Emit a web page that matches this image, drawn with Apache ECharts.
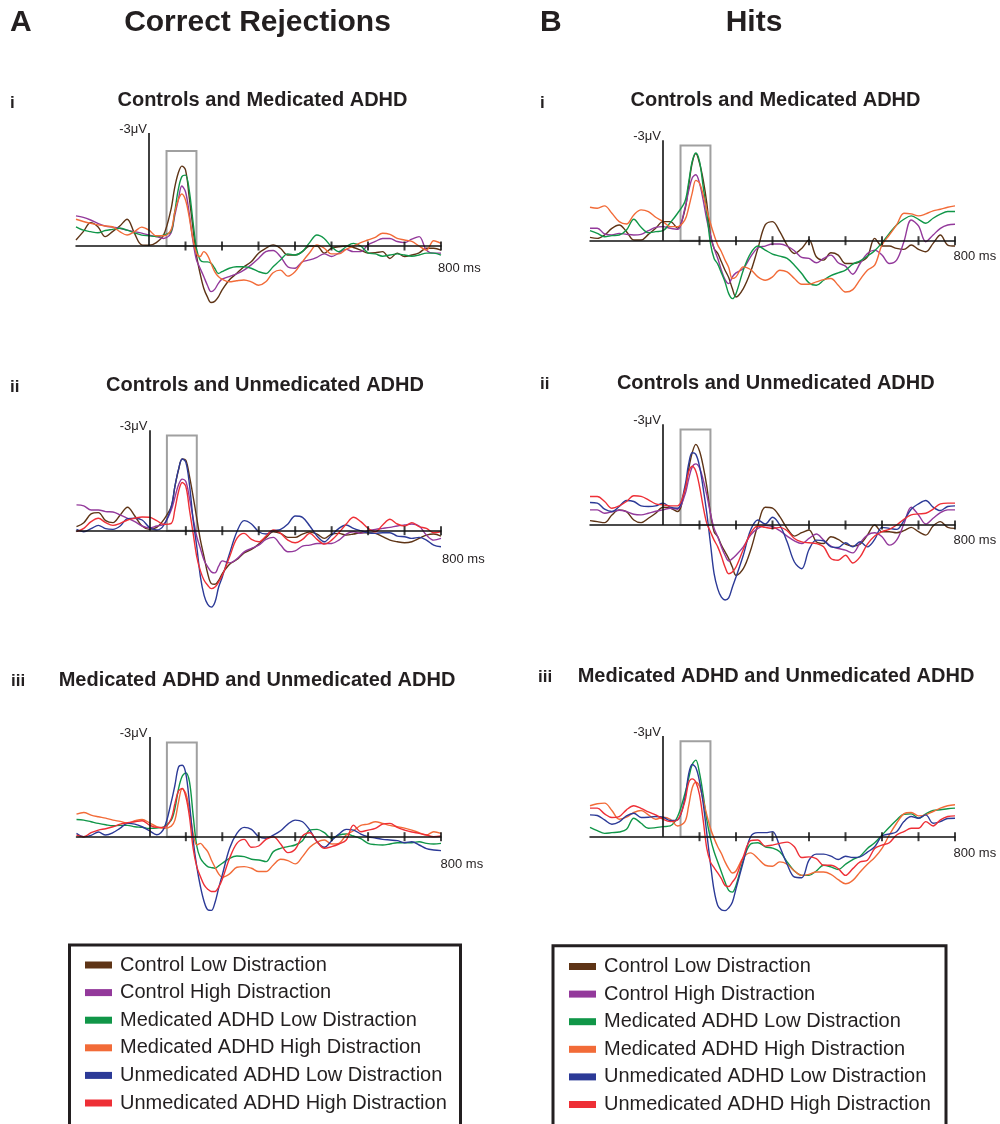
<!DOCTYPE html>
<html><head><meta charset="utf-8">
<script src="https://cdn.jsdelivr.net/npm/echarts@6/dist/echarts.min.js"></script>
<style>html,body{margin:0;padding:0;background:#fff}#c{width:1000px;height:1124px}</style>
</head><body><div id="c"></div>
<script>
// ---------- DATA ----------
const times = [-200,-180,-160,-140,-120,-100,-80,-60,-40,-20,0,20,40,60,70,80,90,100,110,120,130,140,150,160,170,180,190,200,220,240,260,280,300,320,340,360,380,400,420,440,460,480,500,520,540,560,580,600,620,640,660,680,700,720,740,760,780,800];
const seriesNames = ['Control Low Distraction','Control High Distraction','Medicated ADHD Low Distraction','Medicated ADHD High Distraction','Unmedicated ADHD Low Distraction','Unmedicated ADHD High Distraction'];
const seriesColors = ['#5E3416','#93399B','#109648','#F26B38','#2C3A97','#EE2F36'];
const tickValues = [100,200,300,400,500,600,700,800];
const columnLetters = ['A','B'];
const columnTitles = ['Correct Rejections','Hits'];
const panelNumerals = ['i','ii','iii'];
const panelTitles = ['Controls and Medicated ADHD','Controls and Unmedicated ADHD','Medicated ADHD and Unmedicated ADHD'];
const yScaleLabel = '-3\u03BCV';
const xEndLabel = '800 ms';
const scaleMarkValue = -3;
const windowMs = [48, 130];

// Correct Rejections (A)
const crI_ctrlLow  = [-0.16,-0.38,-0.62,-0.51,-0.25,-0.38,-0.53,-0.71,-0.34,-0.03,-0.02,-0.09,-0.29,-0.96,-1.53,-1.93,-2.12,-2.02,-1.31,-0.51,0.24,0.73,1.12,1.35,1.50,1.47,1.35,1.17,0.90,0.73,0.55,0.42,0.19,0.06,-0.03,0.06,0.24,0.24,0.15,0,0,0.19,0.06,0.02,0,0.04,0.11,0.19,0.18,0.15,0.33,0.19,0.28,0.24,0.18,0.06,0.06,0.11];
const crI_ctrlHigh = [-0.80,-0.76,-0.69,-0.60,-0.53,-0.50,-0.47,-0.42,-0.38,-0.34,-0.29,-0.25,-0.20,-0.34,-0.78,-1.21,-1.59,-1.44,-0.88,-0.16,0.37,0.59,0.81,1.04,1.21,1.15,0.99,0.88,0.81,0.74,0.64,0.50,0.33,0.15,0.12,0.28,0.55,0.59,0.42,0.37,0.30,0.21,0.28,0.19,0.09,0.15,0.15,-0.03,-0.12,-0.20,-0.20,-0.12,-0.09,-0.18,-0.25,0.11,0.19,0.19];
const crI_medLow   = [-0.51,-0.42,-0.38,-0.35,-0.41,-0.44,-0.47,-0.42,-0.35,-0.29,-0.27,-0.25,-0.29,-0.38,-0.87,-1.49,-1.84,-1.88,-1.49,-0.69,0.06,0.37,0.42,0.42,0.46,0.59,0.73,0.68,0.59,0.55,0.55,0.59,0.68,0.73,0.55,0.37,0.21,0.24,0.15,-0.09,-0.29,-0.20,0.02,0.15,0.02,-0.07,0,0.18,0.21,0.27,0.24,0.21,0.24,0.27,0.24,0.19,0.19,0.24];
const crI_medHigh  = [-0.71,-0.65,-0.60,-0.56,-0.53,-0.51,-0.38,-0.29,-0.38,-0.50,-0.42,-0.27,-0.27,-0.42,-0.87,-1.22,-1.38,-1.22,-0.78,-0.20,0.19,0.28,0.15,0.24,0.46,0.68,0.81,0.88,0.95,0.92,0.90,0.95,1.04,0.95,0.71,0.64,0.80,0.68,0.42,0.18,-0.03,0.06,0.21,0.21,0.09,0,-0.09,-0.16,-0.23,-0.34,-0.31,-0.20,-0.16,-0.12,0,0.11,-0.14,-0.07];

const crII_ctrlLow   = [-0.12,-0.24,-0.50,-0.54,-0.30,-0.24,-0.47,-0.70,-0.44,-0.14,-0.04,-0.10,-0.34,-0.72,-1.32,-1.82,-2.14,-2.10,-1.62,-1.02,-0.37,0.28,0.78,1.28,1.58,1.60,1.48,1.28,1.00,0.86,0.66,0.56,0.40,0.20,0.03,0.08,0.20,0.20,0.10,0.04,0.10,0.23,0.10,0.08,0.13,0.10,0.06,0.06,0.08,0.18,0.28,0.33,0.36,0.33,0.23,0.13,0.10,0.16];
const crII_ctrlHigh  = [-0.77,-0.74,-0.62,-0.62,-0.57,-0.56,-0.47,-0.37,-0.27,-0.14,-0.08,-0.14,-0.20,-0.62,-1.00,-1.37,-1.54,-1.47,-0.97,-0.37,0.18,0.53,0.88,1.08,1.23,1.26,1.06,0.90,0.96,0.84,0.63,0.53,0.43,0.26,0.20,0.43,0.63,0.60,0.46,0.43,0.38,0.38,0.38,0.28,0.10,0.03,0.08,0,-0.04,-0.07,-0.10,-0.14,-0.17,-0.20,-0.14,0.13,0.28,0.23];
const crII_unmedLow  = [-0.04,0.03,-0.06,-0.16,-0.06,-0.04,-0.14,-0.36,-0.37,-0.32,-0.10,-0.02,-0.17,-0.72,-1.32,-1.84,-2.14,-2.04,-1.37,-0.32,0.48,1.38,1.93,2.20,2.28,2.13,1.68,1.38,0.68,0.03,-0.30,-0.20,0.03,0.10,0,-0.04,-0.20,-0.44,-0.40,-0.14,0.16,0.33,0.13,-0.07,-0.17,-0.07,0,0.06,0.08,0.06,0.06,0.16,0.18,0.23,0.20,0.28,0.43,0.48];
const crII_unmedHigh = [0.03,-0.07,-0.27,-0.37,-0.24,-0.16,-0.22,-0.32,-0.37,-0.41,-0.40,-0.30,-0.19,-0.22,-0.64,-1.17,-1.44,-1.32,-0.62,0.08,0.78,1.20,1.48,1.63,1.73,1.68,1.53,1.33,0.78,0.23,0.08,0.26,0.33,0.16,-0.02,0.08,0.28,0.36,0.26,0.08,0.26,0.40,0.28,0.06,-0.20,-0.40,-0.27,-0.07,0.03,-0.17,-0.34,-0.20,-0.14,-0.24,-0.12,-0.07,0.06,0.03];

const crIII_medLow    = [-0.52,-0.50,-0.45,-0.40,-0.36,-0.33,-0.34,-0.34,-0.30,-0.28,-0.25,-0.26,-0.30,-0.50,-0.85,-1.45,-1.82,-1.92,-1.65,-0.65,0.28,0.65,0.80,0.90,0.93,0.95,0.88,0.80,0.65,0.58,0.60,0.68,0.70,0.75,0.45,0.35,0.30,0.25,0.12,-0.20,-0.22,-0.12,0.05,-0.05,-0.08,-0.02,0.06,0.20,0.24,0.25,0.22,0.18,0.18,0.18,0.15,0.20,0.22,0.20];
const crIII_medHigh   = [-0.68,-0.73,-0.65,-0.60,-0.56,-0.50,-0.46,-0.41,-0.48,-0.52,-0.42,-0.30,-0.25,-0.32,-0.50,-1.05,-1.45,-1.30,-0.80,-0.10,0.25,0.20,0.32,0.45,0.70,0.92,1.12,1.22,1.12,0.92,0.90,0.95,1.05,1.05,0.85,0.68,0.72,0.82,0.60,0.32,0.16,0.10,0.22,0.20,-0.05,-0.18,-0.34,-0.38,-0.45,-0.40,-0.34,-0.30,-0.26,-0.20,-0.12,-0.05,-0.15,-0.10];
const crIII_unmedLow  = [-0.10,0,-0.04,-0.14,-0.05,-0.12,-0.26,-0.40,-0.38,-0.30,-0.18,-0.06,-0.25,-1.05,-1.55,-2.10,-2.15,-1.90,-1.00,0.10,0.90,1.50,1.95,2.20,2.22,1.98,1.55,1.15,0.35,-0.10,-0.28,-0.22,0,0.05,-0.05,-0.18,-0.38,-0.50,-0.45,-0.20,0.15,0.32,0.12,-0.08,-0.22,-0.20,-0.08,0,0.04,0.08,0.10,0.12,0.18,0.15,0.25,0.36,0.40,0.42];
const crIII_unmedHigh = [-0.05,0,-0.12,-0.20,-0.24,-0.30,-0.38,-0.42,-0.45,-0.48,-0.35,-0.28,-0.28,-0.55,-1.00,-1.38,-1.45,-1.20,-0.60,0.35,0.90,1.20,1.45,1.58,1.65,1.65,1.52,1.28,0.65,0.20,0.08,0.32,0.28,0.08,0,0.22,0.48,0.38,-0.02,-0.12,0.15,0.35,0.30,0.22,0.10,-0.35,-0.15,-0.20,-0.25,-0.38,-0.40,-0.28,-0.20,-0.14,-0.10,-0.05,0,-0.02];

// Hits (B)
const hI_ctrlLow  = [-0.10,-0.07,-0.17,-0.37,-0.47,-0.27,-0.02,-0.02,-0.19,-0.37,-0.57,-0.57,-0.37,-0.92,-1.62,-2.32,-2.60,-2.32,-1.82,-1.12,-0.17,0.23,0.38,0.63,0.88,1.10,1.43,1.68,1.43,0.93,0.23,-0.47,-0.57,-0.27,0.13,0.38,0.23,-0.02,0.48,0.58,0.36,0.43,0.68,0.68,0.63,0.48,-0.07,0.16,0.16,0.23,0.26,0.13,0.26,0.33,0.08,-0.17,0.13,0.16];
const hI_ctrlHigh = [-0.37,-0.37,-0.20,-0.17,-0.22,-0.19,-0.17,-0.19,-0.30,-0.40,-0.42,-0.37,-0.34,-0.97,-1.47,-1.87,-1.97,-1.72,-1.22,-0.62,-0.17,0.23,0.53,0.88,1.16,1.28,1.08,0.96,0.83,0.48,0.21,0.16,0.10,0.10,0.16,0.30,0.50,0.53,0.66,0.53,0.43,0.66,0.76,1.00,0.68,0.38,0.28,0.43,0.68,0.58,0.03,-0.62,-0.44,0.03,-0.17,-0.37,-0.47,-0.49];
const hI_medLow   = [-0.30,-0.22,-0.12,-0.15,-0.17,-0.32,-0.64,-0.40,-0.24,-0.27,-0.30,-0.54,-0.82,-1.17,-1.72,-2.37,-2.62,-2.37,-1.62,-0.82,0.08,0.53,0.70,0.96,1.23,1.58,1.73,1.58,0.88,0.38,0.16,0.28,0.40,0.46,0.53,0.73,0.98,1.26,1.33,1.18,1.04,0.96,0.88,0.70,0.60,0.46,0.30,0.06,-0.22,-0.47,-0.64,-0.74,-0.64,-0.52,-0.67,-0.79,-0.87,-0.87];
const hI_medHigh  = [-1.00,-0.97,-1.04,-0.82,-0.57,-0.50,-0.77,-0.92,-0.87,-0.70,-0.57,-0.42,-0.42,-0.62,-0.97,-1.42,-1.80,-1.72,-1.37,-0.92,-0.52,-0.17,0.13,0.33,0.58,0.80,1.13,1.08,0.78,0.86,1.08,1.18,1.08,0.88,0.93,1.13,1.30,1.30,1.23,1.16,1.13,1.33,1.53,1.46,1.16,0.88,0.73,0.13,-0.17,-0.47,-0.82,-0.80,-0.74,-0.80,-0.89,-0.94,-1.00,-1.04];

const hII_ctrlLow   = [-0.13,-0.10,-0.07,-0.30,-0.45,-0.40,-0.15,-0.07,-0.20,-0.35,-0.53,-0.50,-0.40,-1.05,-1.65,-2.15,-2.40,-2.20,-1.75,-1.15,-0.35,0.20,0.35,0.60,0.80,1.00,1.25,1.50,1.30,0.75,0,-0.53,-0.50,-0.25,0.10,0.33,0.23,0.15,0.50,0.55,0.35,0.43,0.57,0.63,0.57,0.30,0,0.20,0.20,0.23,0.17,0.07,0.20,0.30,0.03,-0.10,0.07,0.10];
const hII_ctrlHigh  = [-0.45,-0.45,-0.35,-0.39,-0.44,-0.40,-0.32,-0.30,-0.35,-0.41,-0.45,-0.50,-0.47,-0.90,-1.35,-1.73,-1.82,-1.70,-1.35,-0.90,-0.35,0.10,0.35,0.65,0.90,1.07,1.00,0.90,0.65,0.30,0.10,0.02,0.05,0.17,0.33,0.47,0.55,0.40,0.27,0.45,0.63,0.70,0.75,0.83,0.53,0.30,0.23,0.35,0.60,0.45,-0.03,-0.53,-0.30,-0.03,-0.20,-0.37,-0.45,-0.45];
const hII_unmedLow  = [-0.67,-0.65,-0.47,-0.40,-0.55,-0.73,-0.70,-0.57,-0.55,-0.57,-0.65,-0.53,-0.50,-1.15,-1.80,-2.15,-2.10,-1.75,-1.10,-0.35,0.55,1.45,1.90,2.15,2.23,2.17,1.85,1.55,0.90,0.15,-0.15,-0.03,-0.23,0,0.50,1.10,1.30,0.73,0.45,0.47,0.65,0.67,0.53,0.65,0.50,0.65,0.43,0.07,0.10,0.13,-0.13,-0.47,-0.63,-0.73,-0.53,-0.43,-0.55,-0.57];
const hII_unmedHigh = [-0.85,-0.85,-0.70,-0.50,-0.57,-0.70,-0.87,-0.85,-0.75,-0.63,-0.60,-0.57,-0.57,-1.05,-1.57,-1.75,-1.60,-1.15,-0.55,-0.05,0.20,0.45,0.65,0.93,1.25,1.45,1.40,1.25,0.73,0.25,0.03,0.07,0.10,0.07,0.17,0.40,0.50,0.53,0.55,0.65,1.00,1.05,0.90,1.13,0.95,0.57,0.33,0.20,0.13,0,-0.17,-0.30,-0.33,-0.35,-0.47,-0.63,-0.65,-0.65];

const hIII_medLow    = [-0.28,-0.18,-0.10,-0.12,-0.14,-0.22,-0.55,-0.40,-0.25,-0.27,-0.30,-0.32,-0.60,-1.28,-1.72,-2.15,-2.28,-1.90,-1.25,-0.50,0.05,0.45,0.75,1.05,1.35,1.60,1.65,1.45,0.70,0.22,0.18,0.30,0.34,0.45,0.75,1.02,1.15,1.15,1.02,0.85,0.90,0.98,0.82,0.68,0.58,0.35,0.18,-0.05,-0.28,-0.50,-0.67,-0.68,-0.55,-0.68,-0.78,-0.80,-0.83,-0.85];
const hIII_medHigh   = [-0.92,-0.98,-1.00,-0.78,-0.52,-0.58,-0.72,-0.78,-0.65,-0.52,-0.58,-0.52,-0.32,-0.45,-0.90,-1.45,-1.62,-1.50,-1.10,-0.65,-0.25,0.05,0.30,0.50,0.75,0.95,1.08,1.02,0.62,0.48,0.65,0.85,0.88,0.75,0.82,1.02,1.15,1.12,1.05,1.05,1.12,1.28,1.40,1.30,1.05,0.82,0.62,0.35,-0.05,-0.40,-0.68,-0.72,-0.62,-0.65,-0.75,-0.85,-0.92,-0.95];
const hIII_unmedLow  = [-0.65,-0.63,-0.50,-0.37,-0.44,-0.62,-0.70,-0.57,-0.58,-0.60,-0.58,-0.48,-0.50,-1.15,-1.85,-2.15,-2.05,-1.65,-1.00,-0.10,0.80,1.60,2.05,2.18,2.20,2.12,1.95,1.55,0.75,0,-0.12,-0.12,-0.15,0.30,0.82,1.20,1.22,0.70,0.52,0.52,0.58,0.68,0.58,0.62,0.60,0.46,0.30,-0.02,-0.08,-0.15,-0.45,-0.60,-0.55,-0.65,-0.40,-0.45,-0.54,-0.55];
const hIII_unmedHigh = [-0.85,-0.85,-0.68,-0.57,-0.60,-0.80,-0.92,-0.84,-0.74,-0.65,-0.52,-0.45,-0.50,-1.05,-1.60,-1.72,-1.62,-1.25,-0.50,0.35,0.75,0.92,1.08,1.25,1.45,1.48,1.35,1.20,0.60,0.12,0.10,0.28,0.25,0.20,0.16,0.30,0.62,0.60,0.65,0.85,0.85,0.95,1.15,0.95,0.75,0.70,0.35,0.25,0.18,-0.05,-0.15,-0.25,-0.25,-0.45,-0.32,-0.50,-0.60,-0.62];

// ---------- PANELS (which curves go where) ----------
const panels = [
  {col:0,row:0,curves:[[0,crI_ctrlLow],[1,crI_ctrlHigh],[2,crI_medLow],[3,crI_medHigh]],boxTop:-2.52},
  {col:0,row:1,curves:[[0,crII_ctrlLow],[1,crII_ctrlHigh],[4,crII_unmedLow],[5,crII_unmedHigh]],boxTop:-2.84},
  {col:0,row:2,curves:[[2,crIII_medLow],[3,crIII_medHigh],[4,crIII_unmedLow],[5,crIII_unmedHigh]],boxTop:-2.84},
  {col:1,row:0,curves:[[0,hI_ctrlLow],[1,hI_ctrlHigh],[2,hI_medLow],[3,hI_medHigh]],boxTop:-2.84},
  {col:1,row:1,curves:[[0,hII_ctrlLow],[1,hII_ctrlHigh],[4,hII_unmedLow],[5,hII_unmedHigh]],boxTop:-2.84},
  {col:1,row:2,curves:[[2,hIII_medLow],[3,hIII_medHigh],[4,hIII_unmedLow],[5,hIII_unmedHigh]],boxTop:-2.84}
];

// ---------- LAYOUT (pixels) ----------
const layout = [
  {left:76,width:365,axisY:246,s:37.7,msDx:-3,msBase:27,titleX:262.5,titleY:100,numX:10,numY:103},
  {left:76.5,width:364.5,axisY:530.7,s:33.5,msDx:1,msBase:33,titleX:265,titleY:385.5,numX:10,numY:387},
  {left:76.5,width:364.5,axisY:836.7,s:33.2,msDx:-0.5,msBase:32.5,titleX:257,titleY:680.5,numX:11,numY:681},
  {left:590,width:365,axisY:240.7,s:33.5,msDx:-1.5,msBase:20,titleX:775.5,titleY:100,numX:540,numY:103},
  {left:590,width:365,axisY:525,s:33.6,msDx:-1.5,msBase:20,titleX:775.8,titleY:383,numX:540,numY:384},
  {left:590,width:365,axisY:836.7,s:33.6,msDx:-1.5,msBase:21.6,titleX:776,titleY:676,numX:538,numY:677}
];
const yMin = -3.5, yMax = 2.5, xMin = -200, xMax = 800;
const FONT = '"Liberation Sans", Arial, Helvetica, sans-serif';
const INK = '#231F20';

const grids = [], xAxes = [], yAxes = [], series = [], graphics = [];
panels.forEach((p, i) => {
  const L = layout[i];
  grids.push({left: L.left, top: L.axisY + yMin * L.s, width: L.width, height: (yMax - yMin) * L.s});
  xAxes.push({
    type: 'value', gridIndex: i, min: xMin, max: xMax, interval: 100, z: 10,
    axisLabel: {show: false}, splitLine: {show: false}, axisTick: {show: false},
    axisLine: {show: true, onZero: true, lineStyle: {color: '#111', width: 1.5}}
  });
  yAxes.push({type: 'value', gridIndex: i, min: yMin, max: yMax, inverse: true, show: false});
  p.curves.forEach((c, k) => {
    const [si, vals] = c;
    const s = {
      type: 'line', name: seriesNames[si], xAxisIndex: i, yAxisIndex: i,
      data: times.map((t, j) => [t, vals[j]]),
      showSymbol: false, smooth: 0.35, silent: true, animation: false,
      color: seriesColors[si], itemStyle: {color: seriesColors[si]},
      lineStyle: {color: seriesColors[si], width: 1.4}
    };
    if (k === 0) {
      s.markLine = {silent: true, symbol: ['none', 'none'], label: {show: false}, animation: false,
        lineStyle: {color: '#111', width: 1.6, type: 'solid'},
        data: [[{coord: [0, 0]}, {coord: [0, scaleMarkValue]}]]};
      s.markArea = {silent: true, animation: false,
        itemStyle: {color: 'rgba(0,0,0,0)', borderColor: '#A0A0A0', borderWidth: 2},
        data: [[{coord: [windowMs[0], 0]}, {coord: [windowMs[1], p.boxTop]}]]};
    }
    series.push(s);
  });
  // tick marks crossing the time axis
  series.push({
    type: 'scatter', xAxisIndex: i, yAxisIndex: i, silent: true, animation: false, z: 11,
    symbol: 'rect', symbolSize: [2, 9], itemStyle: {color: '#111'},
    data: tickValues.map(t => [t, 0])
  });
  // texts
  const zeroX = L.left + (0 - xMin) / (xMax - xMin) * L.width;
  graphics.push({type: 'text', x: zeroX - 2, y: L.axisY + scaleMarkValue * L.s - 3.5, silent: true,
    style: {text: yScaleLabel, font: '13px ' + FONT, fill: INK, align: 'right', verticalAlign: 'middle'}});
  graphics.push({type: 'text', x: L.left + L.width + L.msDx, y: L.axisY + L.msBase - 4.5, silent: true,
    style: {text: xEndLabel, font: '13px ' + FONT, fill: INK, align: 'left', verticalAlign: 'middle'}});
  graphics.push({type: 'text', x: L.titleX, y: L.titleY, silent: true,
    style: {text: panelTitles[p.row], font: 'bold 20px ' + FONT, fill: INK, align: 'center', verticalAlign: 'middle'}});
  graphics.push({type: 'text', x: L.numX, y: L.numY, silent: true,
    style: {text: panelNumerals[p.row], font: 'bold 17px ' + FONT, fill: INK, align: 'left', verticalAlign: 'middle'}});
});

// column headers
const headerLayout = [{letterX: 10, titleX: 257.5}, {letterX: 540, titleX: 754}];
headerLayout.forEach((h, c) => {
  graphics.push({type: 'text', x: h.letterX, y: 22.5, silent: true,
    style: {text: columnLetters[c], font: 'bold 30px ' + FONT, fill: INK, align: 'left', verticalAlign: 'middle'}});
  graphics.push({type: 'text', x: h.titleX, y: 22.5, silent: true,
    style: {text: columnTitles[c], font: 'bold 30px ' + FONT, fill: INK, align: 'center', verticalAlign: 'middle'}});
});

// legend frames
const legendFrames = [{x: 69.5, y: 945, w: 391}, {x: 553, y: 945.7, w: 393}];
legendFrames.forEach(f => {
  graphics.push({type: 'rect', silent: true, shape: {x: f.x, y: f.y, width: f.w, height: 220},
    style: {fill: 'none', stroke: INK, lineWidth: 3}});
});

const legendBase = {
  data: seriesNames, orient: 'vertical', itemWidth: 27, itemHeight: 7, itemGap: 7.6, icon: 'rect',
  selectedMode: false, padding: 0,
  textStyle: {fontFamily: FONT, fontSize: 20, color: INK, lineHeight: 20, padding: [0, 0, 0, 3]}
};

const chart = echarts.init(document.getElementById('c'), null, {renderer: 'canvas'});
chart.setOption({
  backgroundColor: '#ffffff',
  animation: false,
  grid: grids, xAxis: xAxes, yAxis: yAxes, series: series,
  legend: [Object.assign({}, legendBase, {left: 85, top: 955}), Object.assign({}, legendBase, {left: 569, top: 956.5})],
  graphic: graphics
});
</script>
</body></html>
